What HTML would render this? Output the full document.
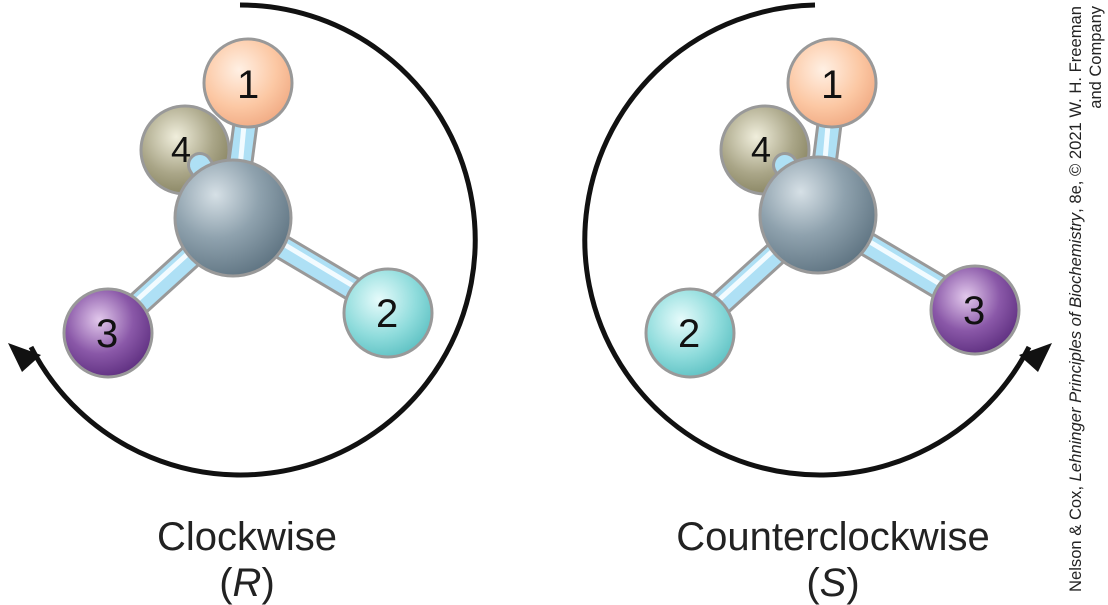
<!DOCTYPE html>
<html><head><meta charset="utf-8"><style>
html,body{margin:0;padding:0;background:#fff;width:1108px;height:605px;overflow:hidden}
svg{display:block}
text{font-family:"Liberation Sans",sans-serif}
</style></head><body>
<svg width="1108" height="605" viewBox="0 0 1108 605">
<defs>
<radialGradient id="gC" cx="0.35" cy="0.3" r="0.75"><stop offset="0" stop-color="#d6e0e6"/><stop offset="0.5" stop-color="#8fa2ae"/><stop offset="1" stop-color="#5f7482"/></radialGradient>
<radialGradient id="g1" cx="0.4" cy="0.35" r="0.7"><stop offset="0" stop-color="#fff0e4"/><stop offset="0.6" stop-color="#fcc8a4"/><stop offset="1" stop-color="#f0a982"/></radialGradient>
<radialGradient id="g4" cx="0.4" cy="0.35" r="0.7"><stop offset="0" stop-color="#f0eedc"/><stop offset="0.6" stop-color="#aaa688"/><stop offset="1" stop-color="#86825f"/></radialGradient>
<radialGradient id="g2" cx="0.4" cy="0.35" r="0.7"><stop offset="0" stop-color="#e6fbfb"/><stop offset="0.6" stop-color="#8fdcdc"/><stop offset="1" stop-color="#5cc0c2"/></radialGradient>
<radialGradient id="g3" cx="0.4" cy="0.35" r="0.7"><stop offset="0" stop-color="#e2c8ec"/><stop offset="0.55" stop-color="#8a58a8"/><stop offset="1" stop-color="#5c2d7e"/></radialGradient>
</defs>

<g>
<path d="M240,5 A235,235 0 1 1 31,347" fill="none" stroke="#111" stroke-width="5"/>
<polygon points="8,343 41,355 22,372" fill="#111"/>
<circle cx="185" cy="150" r="44" fill="url(#g4)" stroke="#999" stroke-width="3"/>
<text x="171" y="162" font-size="36" fill="#111">4</text>
<g stroke="#999" stroke-width="26" stroke-linecap="round"><line x1="233" y1="218" x2="200" y2="165"/><line x1="233" y1="218" x2="246" y2="120"/><line x1="233" y1="218" x2="115" y2="325"/><line x1="233" y1="218" x2="380" y2="305"/></g>
<g stroke="#aee0f5" stroke-width="20" stroke-linecap="round"><line x1="233" y1="218" x2="200" y2="165"/><line x1="233" y1="218" x2="246" y2="120"/><line x1="233" y1="218" x2="115" y2="325"/><line x1="233" y1="218" x2="380" y2="305"/></g>
<g stroke="#f2fbff" stroke-width="5" stroke-linecap="round"><line x1="236" y1="210" x2="244" y2="125"/><line x1="225" y1="220" x2="115" y2="320"/><line x1="240" y1="218" x2="375" y2="299"/></g>
<circle cx="248" cy="83" r="44" fill="url(#g1)" stroke="#999" stroke-width="3"/>
<text x="237" y="98" font-size="40" fill="#111">1</text>
<circle cx="233" cy="218" r="58" fill="url(#gC)" stroke="#999" stroke-width="3"/>
<circle cx="108" cy="333" r="44" fill="url(#g3)" stroke="#999" stroke-width="3"/>
<text x="96" y="347" font-size="40" fill="#111">3</text>
<circle cx="388" cy="313" r="44" fill="url(#g2)" stroke="#999" stroke-width="3"/>
<text x="376" y="327" font-size="40" fill="#111">2</text>
<text x="247" y="550" font-size="40" text-anchor="middle" fill="#222">Clockwise</text>
<text x="247" y="596" font-size="40" text-anchor="middle" fill="#222">(<tspan font-style="italic">R</tspan>)</text>
</g>

<g>
<path d="M815,5 A235,235 0 1 0 1029,347" fill="none" stroke="#111" stroke-width="5"/>
<polygon points="1052,343 1038,372 1019,355" fill="#111"/>
<circle cx="765" cy="150" r="44" fill="url(#g4)" stroke="#999" stroke-width="3"/>
<text x="751" y="162" font-size="36" fill="#111">4</text>
<g stroke="#999" stroke-width="26" stroke-linecap="round"><line x1="818" y1="215" x2="785" y2="165"/><line x1="818" y1="215" x2="830" y2="120"/><line x1="818" y1="215" x2="697" y2="325"/><line x1="818" y1="215" x2="965" y2="302"/></g>
<g stroke="#aee0f5" stroke-width="20" stroke-linecap="round"><line x1="818" y1="215" x2="785" y2="165"/><line x1="818" y1="215" x2="830" y2="120"/><line x1="818" y1="215" x2="697" y2="325"/><line x1="818" y1="215" x2="965" y2="302"/></g>
<g stroke="#f2fbff" stroke-width="5" stroke-linecap="round"><line x1="821" y1="207" x2="828" y2="125"/><line x1="810" y1="217" x2="697" y2="320"/><line x1="825" y1="215" x2="960" y2="296"/></g>
<circle cx="832" cy="83" r="44" fill="url(#g1)" stroke="#999" stroke-width="3"/>
<text x="821" y="98" font-size="40" fill="#111">1</text>
<circle cx="818" cy="215" r="58" fill="url(#gC)" stroke="#999" stroke-width="3"/>
<circle cx="690" cy="333" r="44" fill="url(#g2)" stroke="#999" stroke-width="3"/>
<text x="678" y="347" font-size="40" fill="#111">2</text>
<circle cx="975" cy="310" r="44" fill="url(#g3)" stroke="#999" stroke-width="3"/>
<text x="963" y="324" font-size="40" fill="#111">3</text>
<text x="833" y="550" font-size="40" text-anchor="middle" fill="#222">Counterclockwise</text>
<text x="833" y="596" font-size="40" text-anchor="middle" fill="#222">(<tspan font-style="italic">S</tspan>)</text>
</g>

<g transform="translate(1081,592) rotate(-90)">
<text x="0" y="0" font-size="16.5" fill="#222" textLength="586" lengthAdjust="spacingAndGlyphs">Nelson &amp; Cox, <tspan font-style="italic">Lehninger Principles of Biochemistry</tspan>, 8e, © 2021 W. H. Freeman</text>
<text x="586" y="20" font-size="16.5" fill="#222" text-anchor="end">and Company</text>
</g>
</svg>
</body></html>
